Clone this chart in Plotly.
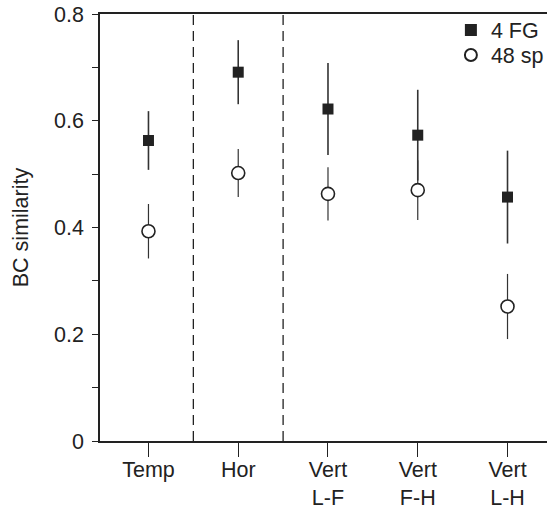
import plotly.graph_objects as go

categories = ["Temp", "Hor", "Vert<br>L-F", "Vert<br>F-H", "Vert<br>L-H"]
positions = [1, 2, 3, 4, 5]

fg_mean = [0.563, 0.691, 0.622, 0.573, 0.457]
fg_err = [0.055, 0.060, 0.086, 0.085, 0.087]

sp_mean = [0.393, 0.502, 0.463, 0.470, 0.252]
sp_err = [0.051, 0.045, 0.050, 0.056, 0.061]

separators = [1.5, 2.5]

FONT = "Liberation Sans, Arial, sans-serif"
INK = "#222222"
FS = 21.5

fig = go.Figure()

# 48 sp (open circles)
fig.add_trace(go.Scatter(
    x=positions, y=sp_mean, mode="markers", name="48 sp", legend="legend2",
    marker=dict(symbol="circle", size=13, color="white",
                line=dict(color=INK, width=1.6)),
    error_y=dict(type="data", array=sp_err, visible=True,
                 color="#333333", thickness=1.2, width=0),
))

# 4 FG (filled squares)
fig.add_trace(go.Scatter(
    x=positions, y=fg_mean, mode="markers", name="4 FG", legend="legend",
    marker=dict(symbol="square", size=11, color=INK,
                line=dict(color=INK, width=0)),
    error_y=dict(type="data", array=fg_err, visible=True,
                 color="#333333", thickness=1.6, width=0),
))

for s in separators:
    fig.add_vline(x=s, line=dict(color=INK, width=1.3, dash="10px,6px"))

leg_common = dict(
    xanchor="left", yanchor="middle",
    bgcolor="rgba(0,0,0,0)", borderwidth=0,
    font=dict(family=FONT, size=FS, color=INK),
    itemsizing="constant",
)

fig.update_layout(
    width=547, height=509,
    margin=dict(l=100, r=0, t=14, b=68, autoexpand=False),
    paper_bgcolor="white", plot_bgcolor="white",
    font=dict(family=FONT, size=FS, color=INK),
    showlegend=True,
    legend=dict(x=0.785, y=0.9625, **leg_common),
    legend2=dict(x=0.785, y=0.904, **leg_common),
    xaxis=dict(
        range=[0.46, 5.44], automargin=False,
        tickmode="array", tickvals=positions, ticktext=categories,
        ticks="outside", ticklen=14, tickwidth=1.3, tickcolor=INK,
        showline=True, linecolor=INK, linewidth=1.6, mirror=True,
        showgrid=False, zeroline=False,
        ticklabelstandoff=-6,
        tickfont=dict(family=FONT, size=FS, color=INK),
    ),
    yaxis=dict(
        range=[0, 0.8], automargin=False,
        tickmode="array", tickvals=[0, 0.2, 0.4, 0.6, 0.8],
        ticktext=["0", "0.2", "0.4", "0.6", "0.8"],
        ticks="outside", ticklen=6, tickwidth=1.3, tickcolor=INK,
        minor=dict(tickmode="array", tickvals=[0.1, 0.3, 0.5, 0.7],
                   ticks="outside", ticklen=6, tickwidth=1.3, tickcolor=INK,
                   showgrid=False),
        showline=True, linecolor=INK, linewidth=1.6, mirror=False,
        showgrid=False, zeroline=False,
        ticklabelstandoff=4,
        tickfont=dict(family=FONT, size=FS, color=INK),
        title=dict(text="BC similarity", standoff=19,
                   font=dict(family=FONT, size=FS, color=INK)),
    ),
)

fig.write_html("out.html")
